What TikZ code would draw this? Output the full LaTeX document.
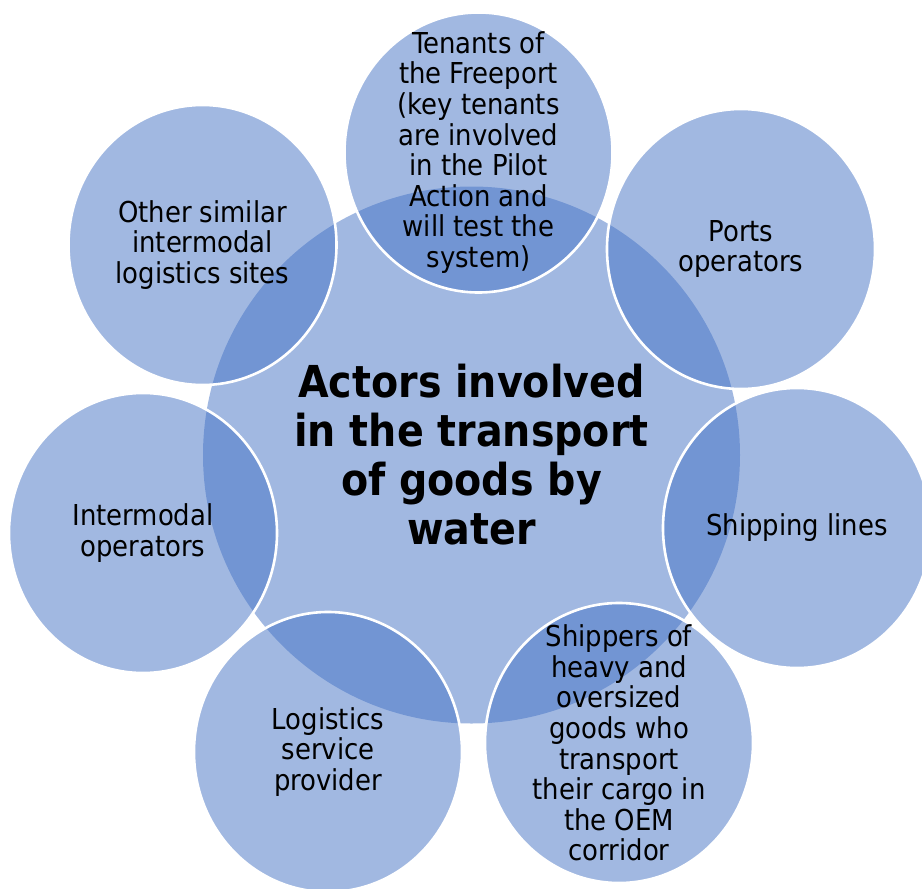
\documentclass[tikz,border=0pt]{standalone}
\usepackage{fontspec}
\IfFontExistsTF{DejaVu Sans Condensed}{\setmainfont{DejaVu Sans Condensed}}{\setmainfont{DejaVu Sans}}
\usepackage{tikz}
\usetikzlibrary{shapes.geometric}
\definecolor{accent}{HTML}{4472C4}

\begin{document}
\begin{tikzpicture}[
  x=0.5pt, y=-0.5pt,
  hub/.style={circle, fill=accent, fill opacity=0.5, inner sep=0pt, minimum size=268.5pt},
  actor/.style={ellipse, fill=accent, fill opacity=0.5, draw=white, draw opacity=1, line width=1.3pt, inner sep=0pt, minimum width=134pt, minimum height=140pt},
  lbl/.style={align=center, text=black, font=\fontsize{14.4}{15.3}\selectfont},
  hublbl/.style={align=center, text=black, font=\bfseries\fontsize{22}{24.5}\selectfont}
]
\useasboundingbox (0,0) rectangle (922,889);

% circles
\node[hub] (hub) at (471.5,455) {};
\node[actor] (tenants) at (478.5,152.5) {};
\node[actor] (ports) at (741,249) {};
\node[actor] (shipping) at (797,528) {};
\node[actor] (shippers) at (619,743) {};
\node[actor] (logistics) at (328,752) {};
\node[actor] (intermodal) at (143,533) {};
\node[actor] (other) at (202.5,245) {};

% texts
\node[hublbl] at (hub) {Actors involved\\in the transport\\of goods by\\water};
\node[lbl] at (tenants) {Tenants of\\the Freeport\\(key tenants\\are involved\\in the Pilot\\Action and\\will test the\\system)};
\node[lbl] at (ports) {Ports\\operators};
\node[lbl] at (shipping) {Shipping lines};
\node[lbl] at (shippers) {Shippers of\\heavy and\\oversized\\goods who\\transport\\their cargo in\\the OEM\\corridor};
\node[lbl] at (logistics) {Logistics\\service\\provider};
\node[lbl] at (intermodal) {Intermodal\\operators};
\node[lbl] at (other) {Other similar\\intermodal\\logistics sites};
\end{tikzpicture}
\end{document}
